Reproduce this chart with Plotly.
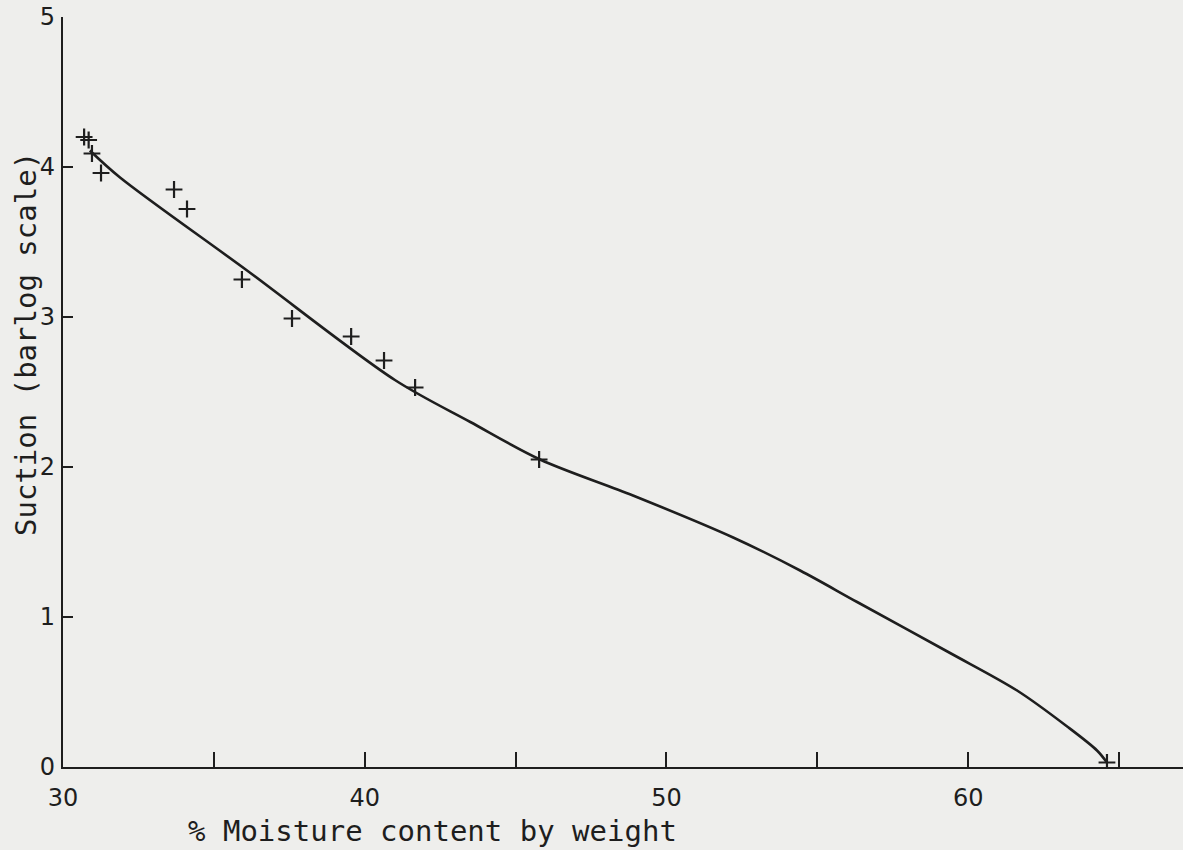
import plotly.graph_objects as go

# Measured points (+)
moisture_pts = [30.70, 30.85, 30.96, 31.26, 33.68, 34.11, 35.93, 37.59, 39.55, 40.64, 41.67, 45.78, 64.60]
suction_pts = [4.20, 4.18, 4.09, 3.96, 3.85, 3.72, 3.25, 2.99, 2.87, 2.71, 2.53, 2.05, 0.03]

# Fitted curve
curve_moisture = [30.89, 31.89, 36.10, 41.00, 43.50, 45.81, 48.89, 52.21, 54.43, 56.32, 59.40, 61.62, 63.28, 64.27, 64.60]
curve_suction = [4.11, 3.93, 3.31, 2.58, 2.30, 2.05, 1.81, 1.53, 1.31, 1.10, 0.76, 0.51, 0.27, 0.11, 0.03]

x_tickvals = [30, 35, 40, 45, 50, 55, 60, 65]
x_ticktext = ["30", "", "40", "", "50", "", "60", ""]
y_tickvals = [0, 1, 2, 3, 4, 5]
y_ticktext = ["0", "1", "2", "3", "4", "5"]

x_title = "% Moisture content by weight"
y_title = "Suction (barlog scale)"

ink = "#1e1e1e"
paper = "#eeeeec"

fig = go.Figure()
fig.add_trace(go.Scatter(
    x=curve_moisture, y=curve_suction, mode="lines",
    line=dict(color=ink, width=2.6, shape="spline", smoothing=0.9),
    showlegend=False, hoverinfo="skip"))
fig.add_trace(go.Scatter(
    x=moisture_pts, y=suction_pts, mode="markers",
    marker=dict(symbol="cross-thin", size=12, line=dict(color=ink, width=2.2)),
    showlegend=False))

fig.update_layout(
    width=1183, height=850,
    margin=dict(l=63, r=0, t=17, b=83),
    paper_bgcolor=paper, plot_bgcolor=paper,
    font=dict(family="DejaVu Sans", color=ink, size=24),
    xaxis=dict(range=[30, 67.12], tickvals=x_tickvals, ticktext=x_ticktext,
               showgrid=False, zeroline=False, showline=True, linecolor=ink, linewidth=2.2,
               ticks="inside", ticklen=15, tickwidth=2, tickcolor=ink,
               ticklabelstandoff=8, tickfont=dict(size=24, family="DejaVu Sans", color=ink)),
    yaxis=dict(range=[0, 5], tickvals=y_tickvals, ticktext=y_ticktext,
               showgrid=False, zeroline=False, showline=True, linecolor=ink, linewidth=2.2,
               ticks="inside", ticklen=10, tickwidth=2, tickcolor=ink,
               ticklabelstandoff=1, tickfont=dict(size=24, family="DejaVu Sans", color=ink)),
    annotations=[
        dict(text=x_title, xref="paper", yref="paper", x=(432 - 63) / 1120, y=0,
             xanchor="center", yanchor="middle", yshift=-64, showarrow=False,
             font=dict(family="DejaVu Sans Mono", size=29, color=ink)),
        dict(text=y_title, xref="paper", yref="paper", x=0, y=(767 - 344) / 750,
             xanchor="center", yanchor="middle", xshift=-37, textangle=-90, showarrow=False,
             font=dict(family="DejaVu Sans Mono", size=29, color=ink)),
    ],
)

fig.write_html(
    "out.html",
    config={"displayModeBar": False},
    post_script="document.body.style.margin='0';document.body.style.background='#eeeeec';document.body.style.overflow='hidden';",
)
